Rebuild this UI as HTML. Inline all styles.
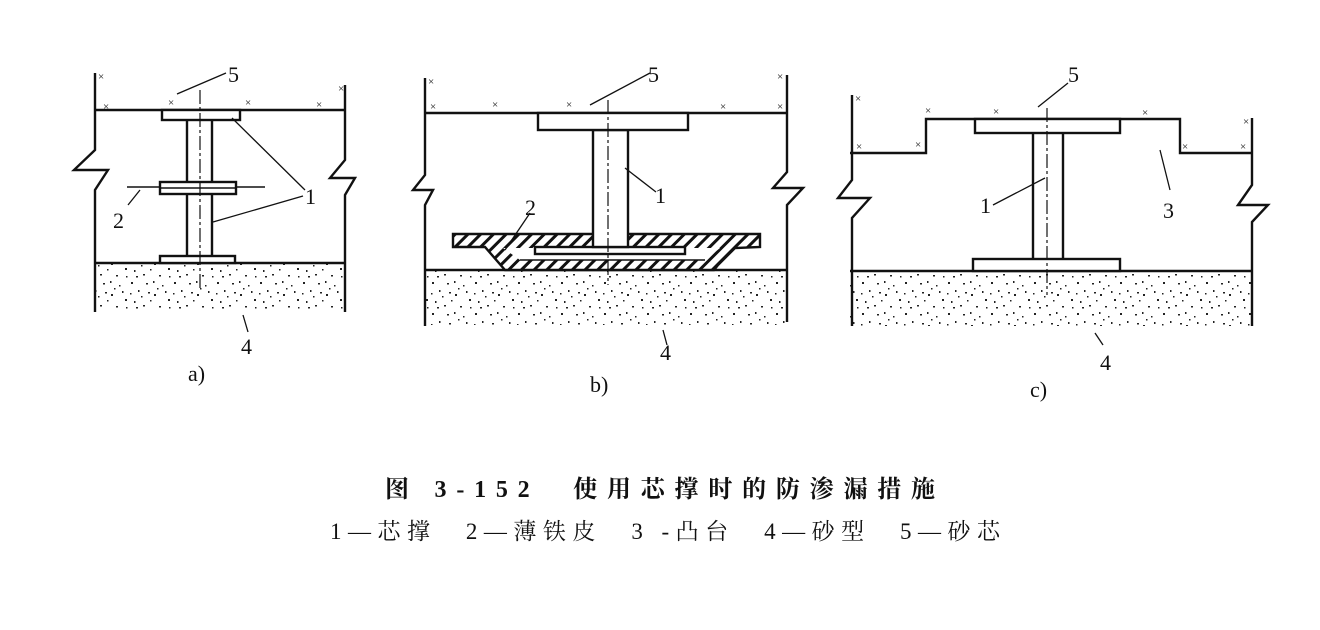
<!DOCTYPE html>
<html><head><meta charset="utf-8"><style>
html,body{margin:0;padding:0;background:#fff;}
svg{display:block}
text{font-family:"Liberation Serif","Noto Serif CJK SC",serif;fill:#111}
</style></head><body>
<svg width="1320" height="630" viewBox="0 0 1320 630" xmlns="http://www.w3.org/2000/svg">
<defs>
<pattern id="sand" width="43" height="31" patternUnits="userSpaceOnUse">
<g fill="#222">
<rect x="2" y="3" width="2" height="2"/><rect x="9" y="11" width="1.5" height="2"/><rect x="17" y="4" width="2" height="1.5"/>
<rect x="25" y="15" width="2" height="2"/><rect x="33" y="6" width="1.5" height="1.5"/><rect x="39" y="20" width="2" height="2"/>
<rect x="5" y="22" width="1.5" height="2"/><rect x="14" y="26" width="2" height="1.5"/><rect x="21" y="21" width="1.5" height="1.5"/>
<rect x="30" y="27" width="2" height="1.5"/><rect x="12" y="17" width="1.5" height="1.5"/><rect x="36" y="12" width="1.5" height="2"/>
<rect x="28" y="9" width="1.5" height="1.5"/><rect x="19" y="13" width="2" height="1.5"/><rect x="1" y="14" width="1.5" height="1.5"/>
<rect x="7" y="28" width="2" height="1.5"/><rect x="24" y="2" width="1.5" height="2"/><rect x="40" y="28" width="1.5" height="1.5"/>
</g></pattern>
<pattern id="hatch" width="9" height="9" patternUnits="userSpaceOnUse" patternTransform="rotate(45)">
<rect width="9" height="9" fill="#fff"/><rect x="0" y="0" width="3" height="9" fill="#111"/>
</pattern>
</defs>
<g stroke="#111" stroke-width="2.4" fill="none">
<!-- Figure a -->
<rect x="95" y="263" width="250" height="48" fill="url(#sand)" stroke="none"/>
<path d="M95 73 V150 L74 170 H108 L95 190 V312"/>
<path d="M345 85 V160 L330 178 H355 L345 195 V312"/>
<line x1="95" y1="110" x2="345" y2="110"/>
<line x1="95" y1="263" x2="345" y2="263"/>
<rect x="162" y="110" width="78" height="10" fill="#fff"/>
<line x1="187" y1="120" x2="187" y2="256"/><line x1="212" y1="120" x2="212" y2="256"/>
<line x1="127" y1="187" x2="265" y2="187" stroke-width="1.6"/>
<rect x="160" y="182" width="76" height="12" fill="#fff"/>
<line x1="160" y1="188" x2="236" y2="188" stroke-width="1.4"/>
<rect x="160" y="256" width="75" height="7" fill="#fff"/>
<line x1="200" y1="90" x2="200" y2="290" stroke-width="1.2" stroke-dasharray="14 3 3 3"/>
<g stroke-width="1.3">
<line x1="177" y1="94" x2="226" y2="73"/>
<line x1="232" y1="118" x2="305" y2="190"/>
<line x1="213" y1="222" x2="303" y2="196"/>
<line x1="128" y1="205" x2="140" y2="190"/>
<line x1="243" y1="315" x2="248" y2="332"/>
</g>
<!-- Figure b -->
<rect x="425" y="270" width="362" height="55" fill="url(#sand)" stroke="none"/>
<path d="M425 78 V175 L413 190 H433 L425 205 V326"/>
<path d="M787 75 V172 L773 188 H803 L787 205 V322"/>
<line x1="425" y1="113" x2="787" y2="113"/>
<line x1="425" y1="270" x2="787" y2="270"/>
<path d="M453 234 H760 V247 L735 248 L718 265 L714 270 H505 L485 247 H453 Z" fill="url(#hatch)"/>
<path d="M503 248 L520 260 H705 L720 248 Z" fill="#fff" stroke="none"/>
<rect x="535" y="247" width="150" height="7" fill="#fff"/>
<line x1="520" y1="260" x2="705" y2="260" stroke-width="1.4"/>
<rect x="593" y="130" width="35" height="117" fill="#fff"/>
<rect x="538" y="113" width="150" height="17" fill="#fff"/>
<line x1="608" y1="100" x2="608" y2="285" stroke-width="1.2" stroke-dasharray="14 3 3 3"/>
<g stroke-width="1.3">
<line x1="590" y1="105" x2="650" y2="73"/>
<line x1="625" y1="168" x2="656" y2="192"/>
<line x1="530" y1="213" x2="505" y2="250"/>
<line x1="663" y1="330" x2="667" y2="345"/>
</g>
<!-- Figure c -->
<rect x="850" y="271" width="402" height="55" fill="url(#sand)" stroke="none"/>
<path d="M852 95 V180 L838 198 H870 L852 218 V326"/>
<path d="M1252 118 V185 L1238 205 H1268 L1252 222 V326"/>
<path d="M850 153 H926 V119 H1180 V153 H1252"/>
<line x1="850" y1="271" x2="1252" y2="271"/>
<rect x="975" y="119" width="145" height="14" fill="#fff"/>
<line x1="1033" y1="133" x2="1033" y2="260"/><line x1="1063" y1="133" x2="1063" y2="260"/>
<rect x="973" y="259" width="147" height="12" fill="#fff"/>
<line x1="1047" y1="108" x2="1047" y2="295" stroke-width="1.2" stroke-dasharray="14 3 3 3"/>
<g stroke-width="1.3">
<line x1="1038" y1="107" x2="1068" y2="83"/>
<line x1="993" y1="205" x2="1045" y2="178"/>
<line x1="1160" y1="150" x2="1170" y2="190"/>
<line x1="1095" y1="333" x2="1103" y2="345"/>
</g>
</g>
<g font-size="11" fill="#222">
<text x="98" y="80">×</text><text x="103" y="110">×</text><text x="168" y="106">×</text><text x="245" y="106">×</text><text x="316" y="108">×</text><text x="338" y="92">×</text>
<text x="428" y="85">×</text><text x="430" y="110">×</text><text x="492" y="108">×</text><text x="566" y="108">×</text><text x="720" y="110">×</text><text x="777" y="80">×</text><text x="777" y="110">×</text>
<text x="855" y="102">×</text><text x="856" y="150">×</text><text x="925" y="114">×</text><text x="915" y="148">×</text><text x="993" y="115">×</text><text x="1142" y="116">×</text><text x="1182" y="150">×</text><text x="1240" y="150">×</text><text x="1243" y="125">×</text>
</g>
<g font-size="22">
<text x="228" y="82">5</text><text x="305" y="204">1</text><text x="113" y="228">2</text><text x="241" y="354">4</text><text x="188" y="381">a)</text>
<text x="648" y="82">5</text><text x="655" y="203">1</text><text x="525" y="215">2</text><text x="660" y="360">4</text><text x="590" y="392">b)</text>
<text x="1068" y="82">5</text><text x="980" y="213">1</text><text x="1163" y="218">3</text><text x="1100" y="370">4</text><text x="1030" y="397">c)</text>
</g>
<text x="385" y="497" font-size="24" font-weight="bold" textLength="550" lengthAdjust="spacing">图 3-152　使用芯撑时的防渗漏措施</text>
<text x="330" y="539" font-size="23" textLength="670" lengthAdjust="spacing">1—芯撑　2—薄铁皮　3 -凸台　4—砂型　5—砂芯</text>
</svg>
</body></html>
